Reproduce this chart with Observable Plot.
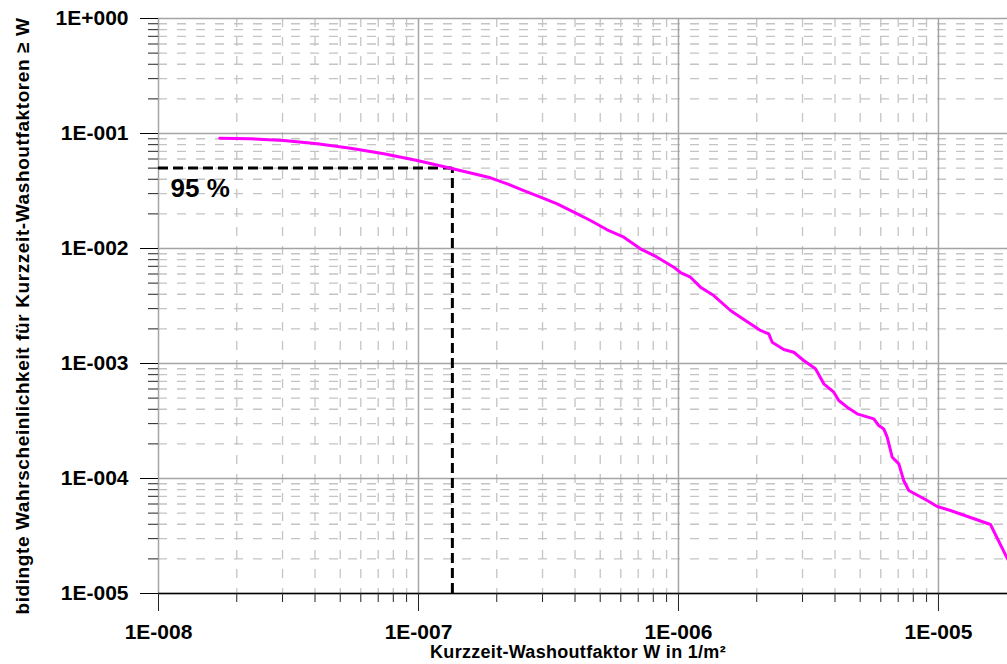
<!DOCTYPE html>
<html>
<head>
<meta charset="utf-8">
<script src="https://cdn.jsdelivr.net/npm/d3@7"></script>
<script src="https://cdn.jsdelivr.net/npm/@observablehq/plot@0.6"></script>
<style>
  html, body { margin: 0; padding: 0; background: #fff; }
  svg { display: block; }
</style>
</head>
<body>
<div id="chart"></div>
<script>
// Kurzzeit-Washoutfaktor W (1/m²)
const washout = [1.72e-8, 2.26e-8, 3.03e-8, 4.08e-8, 5.48e-8, 7.35e-8, 9.89e-8, 1.33e-7,
  1.632e-7, 1.892e-7, 2.194e-7, 2.541e-7, 2.946e-7, 3.416e-7, 3.957e-7, 4.586e-7, 5.318e-7, 6.161e-7,
  7.14e-7, 8.28e-7, 9.59e-7, 1.018e-6, 1.112e-6, 1.215e-6, 1.367e-6, 1.585e-6, 1.732e-6,
  2.068e-6, 2.225e-6, 2.293e-6, 2.541e-6, 2.776e-6, 3.033e-6, 3.365e-6, 3.622e-6, 3.957e-6, 4.136e-6,
  4.455e-6, 4.867e-6, 5.64e-6, 5.89e-6, 6.16e-6, 6.35e-6, 6.64e-6, 7.04e-6, 7.35e-6, 7.69e-6,
  9.05e-6, 9.89e-6, 1.112e-5, 1.585e-5, 1.843e-5];
// bedingte Wahrscheinlichkeit >= W
const prob = [0.0910, 0.0899, 0.0869, 0.0813, 0.0745, 0.0666, 0.0582, 0.0499,
  0.04463, 0.04118, 0.03652, 0.03193, 0.02793, 0.02447, 0.02069, 0.01752, 0.01454, 0.01254,
  0.00994, 0.0084, 0.00688, 0.00618, 0.00563, 0.00461, 0.0039, 0.00289, 0.00253,
  0.00194, 0.00181, 0.00153, 0.001323, 0.001253, 0.001062, 0.000899, 0.000666, 0.000563, 0.000477,
  0.000417, 0.000365, 0.00033, 0.000289, 0.00027, 0.000229, 0.000153, 0.000134, 0.0000961, 0.0000787,
  0.0000644, 0.0000571, 0.0000527, 0.0000398, 0.00002];

const refW = 1.35e-7;   // 95 % quantile
const refP = 0.05;
const refLabel = "95 %";

const xMin = 1e-8, xMax = 1.843e-5;
const yMin = 1e-5, yMax = 1;

const majorX = [1e-8, 1e-7, 1e-6, 1e-5];
const xTickLabels = ["1E-008", "1E-007", "1E-006", "1E-005"];
const majorY = [1e-5, 1e-4, 1e-3, 1e-2, 1e-1, 1];
const yTickLabels = ["1E-005", "1E-004", "1E-003", "1E-002", "1E-001", "1E+000"];

const xTitle = "Kurzzeit-Washoutfaktor W in 1/m²";
const yTitle = "bidingte Wahrscheinlichkeit für Kurzzeit-Washoutfaktoren ≥ W";

const minorX = [];
for (const d of majorX) for (let m = 2; m <= 9; m++) { const v = m * d; if (v < xMax) minorX.push(v); }
const minorY = [];
for (const d of majorY.slice(0, -1)) for (let m = 2; m <= 9; m++) minorY.push(m * d);

const data = washout.map((w, i) => ({w, p: prob[i]}));

const font = "'Liberation Sans', Arial, Helvetica, sans-serif";

const chart = Plot.plot({
  width: 1007,
  height: 664,
  marginLeft: 158,
  marginRight: 0,
  marginTop: 18,
  marginBottom: 71,
  style: {fontFamily: font, fontWeight: "bold", background: "#fff"},
  x: {type: "log", domain: [xMin, xMax], label: null},
  y: {type: "log", domain: [yMin, yMax], label: null},
  marks: [
    // minor grid
    Plot.ruleX(minorX, {stroke: "#c4c4c4", strokeWidth: 1.3, strokeDasharray: "9,10"}),
    Plot.ruleY(minorY, {stroke: "#c4c4c4", strokeWidth: 1.3, strokeDasharray: "9,10"}),
    // major grid
    Plot.ruleX(majorX, {stroke: "#a4a4a4", strokeWidth: 1.5}),
    Plot.ruleY(majorY, {stroke: "#a4a4a4", strokeWidth: 1.5}),
    // bottom axis line
    Plot.ruleY([yMin], {stroke: "#000", strokeWidth: 1.5}),
    // 95 % reference
    Plot.ruleY([refP], {x1: xMin, x2: refW, stroke: "#000", strokeWidth: 3, strokeDasharray: "10,5"}),
    Plot.ruleX([refW], {y1: yMin, y2: refP, stroke: "#000", strokeWidth: 3, strokeDasharray: "10,5"}),
    Plot.text([refLabel], {x: xMin, y: refP, text: d => d, dx: 12, dy: 21, textAnchor: "start",
      fontSize: 26, fontWeight: "bold", fill: "#000"}),
    // curve
    Plot.line(data, {x: "w", y: "p", stroke: "#ff00ff", strokeWidth: 3, strokeLinejoin: "round"}),
    // axes: ticks
    Plot.axisX({ticks: minorX, tickSize: 9, tickFormat: () => "", label: null, stroke: "#222"}),
    Plot.axisX({ticks: majorX, tickSize: 18, tickFormat: () => "", label: null, stroke: "#222"}),
    Plot.axisX({ticks: majorX, tickSize: 0, tickPadding: 31, label: null, fontSize: 21, fontWeight: "bold",
      fill: "#000", tickFormat: d => xTickLabels[majorX.indexOf(d)]}),
    Plot.axisY({ticks: minorY, tickSize: 10, tickFormat: () => "", label: null, stroke: "#222"}),
    Plot.axisY({ticks: majorY, tickSize: 18, tickFormat: () => "", label: null, stroke: "#000"}),
    Plot.axisY({ticks: majorY, tickSize: 0, tickPadding: 30, label: null, fontSize: 21, fontWeight: "bold",
      fill: "#000", tickFormat: d => yTickLabels[majorY.indexOf(d)]}),
    // titles
    Plot.text([xTitle], {frameAnchor: "bottom", text: d => d, textAnchor: "middle", lineAnchor: "middle",
      dx: -5, dy: 59, fontSize: 18, fontWeight: "bold", fill: "#000"}),
    Plot.text([yTitle], {frameAnchor: "left", text: d => d, textAnchor: "middle", lineAnchor: "middle",
      rotate: -90, dx: -136, dy: 10, fontSize: 19, fontWeight: "bold", fill: "#000"})
  ]
});

// slightly wider letter spacing for the axis titles, as in the original
d3.select(chart).selectAll("text")
  .filter(function () { return this.textContent === xTitle; })
  .attr("letter-spacing", "0.3px");
d3.select(chart).selectAll("text")
  .filter(function () { return this.textContent === yTitle; })
  .attr("letter-spacing", "0.6px");

document.getElementById("chart").appendChild(chart);
</script>
</body>
</html>
